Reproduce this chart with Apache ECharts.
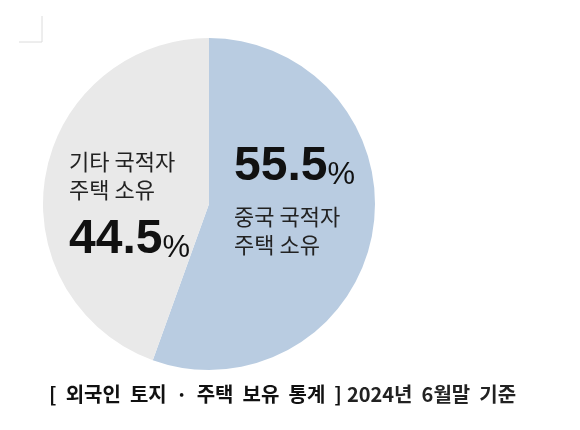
<!DOCTYPE html>
<html>
<head>
<meta charset="utf-8">
<script src="https://cdn.jsdelivr.net/npm/echarts@6/dist/echarts.min.js"></script>
<style>
  html, body { margin: 0; padding: 0; background: #fff; }
  #chart { width: 580px; height: 430px; }
</style>
</head>
<body>
<div id="chart"></div>
<script>
// 보유 비율 (2024년 6월말 기준)
const names = ['중국 국적자\n주택 소유', '기타 국적자\n주택 소유']
const values = [55.5, 44.5]
const colors = ['#b9cce1', '#e9e9e9']

const chart = echarts.init(document.getElementById('chart'))

const korFont = '"Noto Sans CJK KR", sans-serif'
const numFont = '"Liberation Sans", Arial, sans-serif'

const option = {
  animation: false,
  backgroundColor: '#fff',
  title: {
    text: '{b|[  외국인  토지  ·  주택  보유  통계  ]} {n|2024년  6월말  기준}',
    left: 44,
    top: 379,
    textStyle: {
      rich: {
        b: { fontFamily: korFont, fontSize: 20, fontWeight: 'bold', color: '#111' },
        n: { fontFamily: korFont, fontSize: 20, color: '#222' },
      },
    },
  },
  graphic: [
    { type: 'polyline', shape: { points: [[42, 16], [42, 42], [19, 42]] }, style: { stroke: '#dcdcdc', lineWidth: 1, fill: null } },
  ],
  series: [
    {
      type: 'pie',
      center: [209, 204],
      radius: 166,
      startAngle: 90,
      clockwise: true,
      silent: true,
      data: names.map((n, i) => ({ name: n, value: values[i], itemStyle: { color: colors[i] } })),
      label: {
        position: 'inside',
        align: 'left',
        formatter: (p) => p.dataIndex === 0
          ? '{v|' + p.value.toFixed(1) + '}{p|%}\n{s|}\n{t|' + p.name + '}'
          : '{t|' + p.name + '}\n{s|}\n{v|' + p.value.toFixed(1) + '}{p|%}',
        rich: {
          v: { fontFamily: numFont, fontSize: 48, fontWeight: 'bold', color: '#111', lineHeight: 48 },
          p: { fontFamily: numFont, fontSize: 31, color: '#111', lineHeight: 48, verticalAlign: 'bottom' },
          t: { fontFamily: korFont, fontSize: 22, color: '#222', lineHeight: 28 },
          s: { fontSize: 8, lineHeight: 12 },
        },
      },
      labelLayout: (p) => p.dataIndex === 0 ? { x: 234, y: 201, align: 'left', verticalAlign: 'middle' } : { x: 69, y: 206, align: 'left', verticalAlign: 'middle' },
      labelLine: { show: false },
      itemStyle: { borderWidth: 0 },
    },
  ],
}

chart.setOption(option)
</script>
</body>
</html>
